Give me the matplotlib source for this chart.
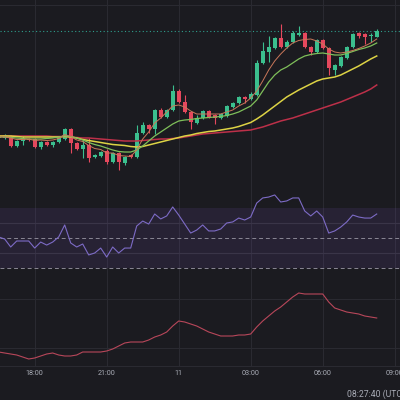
import numpy as np
import pandas as pd
import matplotlib
matplotlib.use('Agg')
import matplotlib.pyplot as plt

plt.rcParams['font.family'] = ['Roboto', 'DejaVu Sans']

BG = '#1b1b20'
GRID = '#2a2a31'
UP, DOWN = '#3bbf8e', '#e5485d'
TXT = '#a9acb6'

TIMES = pd.date_range('2024-06-10 16:30', periods=64, freq='15min')

OPEN = [62, 62, 64, 54, 59, 61, 61, 53, 58, 55, 58, 61, 71, 57, 51, 55, 43, 44, 49, 38, 47, 37, 45, 43,
        67, 75, 71, 90, 83, 90, 109, 98, 88, 77, 82, 89, 85, 82, 84, 93, 97, 103, 101, 105, 137, 148,
        152, 162, 153, 158, 165, 167, 153, 148, 160, 152, 130, 134, 142, 153, 167, 166, 164, 163]
HIGH = [65, 66, 65, 60, 64, 62, 62, 59, 59, 59, 63, 72, 72, 58, 60, 62, 46, 49, 51, 48, 48, 44, 46, 75,
        78, 76, 91, 92, 91, 115, 111, 105, 89, 85, 90, 90, 86, 87, 95, 98, 104, 104, 108, 140, 158, 164,
        163, 176, 160, 169, 174, 168, 154, 161, 161, 153, 136, 144, 154, 167, 168, 167, 167, 171]
LOW = [61, 61, 53, 53, 55, 59, 52, 51, 54, 53, 57, 60, 47, 50, 42, 38, 42, 43, 36, 37, 30, 35, 42, 42,
       66, 67, 66, 82, 82, 89, 97, 87, 71, 76, 81, 82, 76, 81, 83, 92, 96, 97, 100, 104, 136, 138,
       151, 152, 152, 157, 164, 152, 145, 147, 151, 125, 125, 133, 141, 152, 162, 156, 158, 163]
CLOSE = [64, 65, 54, 59, 61, 60, 53, 58, 55, 58, 62, 71, 57, 51, 55, 42, 45, 48, 38, 47, 38, 43, 43, 67,
         75, 71, 90, 83, 90, 109, 98, 88, 78, 82, 89, 83, 82, 86, 94, 97, 103, 101, 106, 137, 149, 153,
         162, 153, 158, 167, 167, 153, 148, 160, 152, 132, 135, 143, 153, 166, 164, 163, 165, 169]

MA_FAST = [63, 63, 62, 60.5, 60.5, 61, 59.5, 60, 59.5, 60, 61.5, 65.5, 63.5, 60, 58.5, 54.5, 51.5, 50.5,
           47, 47, 44.5, 44, 43.5, 50, 61, 68, 77, 82, 88, 94, 95, 93, 89, 86, 86, 86, 86, 86, 88, 90,
           94, 97, 102, 109, 119, 130, 139, 146, 152, 157, 159.5, 160.5, 161, 159, 156, 151, 148, 147,
           148, 149.5, 151.5, 154, 157, 161]
MA_MID = [63, 63, 62.5, 62, 61.5, 61, 61, 61, 61.5, 62, 63, 64, 63.5, 62, 60, 57.5, 55.5, 54, 52, 50,
          48.5, 48, 48, 50, 54, 59, 64, 68, 72, 76, 79, 80, 80.5, 81.5, 82, 82.5, 83, 83.5, 84.5, 86,
          88, 91, 94, 100, 109, 118, 125, 130, 133, 137, 141, 144, 145.5, 146.5, 147, 146, 145, 145,
          146.5, 148.5, 150.5, 152, 154, 157]
MA_SLOW = [64, 64, 64, 63.5, 63, 63, 63, 63, 63, 63, 63, 63.5, 63, 62, 60.5, 59.5, 58.5, 57.5, 56.5,
           55.5, 55, 54.5, 53.5, 53, 53.5, 55, 56.5, 58, 59.5, 61, 62.5, 64, 65, 66.5, 67.5, 68.5, 69,
           70, 71, 72, 73.5, 75.5, 77.5, 81, 85, 89.5, 94, 98.5, 103, 106.5, 110, 113, 116, 119, 121,
           122, 123, 125, 128, 131, 134, 137.5, 141, 144]
MA_LONG = [64, 64, 64, 64, 64, 64, 64, 64, 64, 63.5, 63.5, 63.5, 63, 62.5, 62, 62, 61.5, 61, 60.5, 60,
           59.5, 59, 59, 59, 59.5, 60, 60.5, 61, 61, 61.5, 62, 63, 64, 65, 66, 66.5, 67, 67.5, 68, 68.5,
           69, 69.5, 70, 71.5, 73, 75, 77, 79, 80.5, 82, 84, 86, 88, 90, 92, 94, 96, 98, 100.5, 103,
           105.5, 108, 111, 115]

RSI = [50.7, 49.3, 44, 48, 48, 48, 43.3, 47.3, 45.3, 47.3, 50.7, 58.7, 46.7, 44, 46, 38.7, 40, 43.3,
       37.3, 44, 40, 43.3, 43.3, 58, 61.3, 59.3, 66, 62.7, 64.7, 70.7, 65.3, 59.3, 53.3, 55.3, 58.7,
       54.7, 54.7, 56, 60, 60.7, 63.3, 62, 64, 73.3, 76.7, 77.3, 78.7, 74, 74.7, 76.7, 76.7, 68, 64.7,
       68, 64, 53.3, 54.7, 57.3, 60.7, 65.3, 64, 63.3, 63.3, 66]
ATR = [18, 17, 16, 15, 13, 11, 12, 14, 16, 17, 15, 14, 14, 15, 18, 18, 18, 18, 19, 21, 24, 27, 28, 28,
       28, 30, 33, 35, 38, 44, 49, 48, 46, 44, 41, 38, 36, 34, 34, 34, 35, 35, 36, 43, 49, 54, 59, 63,
       68, 73, 77, 76, 76, 76, 76, 68, 62, 60, 58, 57, 56, 54, 53, 52]

TICK_TIMES = pd.date_range('2024-06-10 18:00', '2024-06-11 09:00', freq='3h')


def _pane(fig, rect, ylim, xlim, ticks):
    ax = fig.add_axes(rect)
    ax.set_facecolor(BG)
    ax.set_xlim(*xlim)
    ax.set_ylim(*ylim)
    for s in ax.spines.values():
        s.set_visible(False)
    ax.set_yticks([])
    ax.set_xticks(ticks)
    ax.tick_params(axis='x', length=0, labelbottom=False)
    for t in ticks:
        ax.axvline(t, color=GRID, lw=0.8, zorder=0)
    return ax


x = np.arange(len(TIMES))
o, h, l, c = map(np.array, (OPEN, HIGH, LOW, CLOSE))
ticks = np.asarray((TICK_TIMES - TIMES[0]) / pd.Timedelta('15min'), dtype=float)
labels = [str(t.day) if t.hour == 0 else t.strftime('%H:%M') for t in TICK_TIMES]
xlim = (0.217, 66.88)

fig = plt.figure(figsize=(4, 4), dpi=100, facecolor=BG)

# price pane
ax = _pane(fig, [0, 0.535, 1, 0.465], (14, 200), xlim, ticks)
ax.axhline(195, color=GRID, lw=0.8, zorder=0)
colors = np.where(c >= o, UP, DOWN)
ax.vlines(x, l, h, colors=colors, lw=0.8, zorder=2)
body = np.maximum(np.abs(c - o), 0.8)
ax.bar(x, body, bottom=np.minimum(o, c), width=0.66, color=colors, zorder=3)
ax.plot(x, MA_LONG, color='#bd3049', lw=1.1, zorder=4)
ax.plot(x, MA_SLOW, color='#ddd345', lw=1.1, zorder=4)
ax.plot(x, MA_MID, color='#7fbf5a', lw=0.9, zorder=5)
ax.plot(x, MA_FAST, color='#c9775a', lw=0.7, zorder=6)
ax.axhline(c[-1], color='#2f9e8c', lw=0.8, ls=(0, (1, 2.2)), zorder=1)

# RSI pane
ax_r = _pane(fig, [0, 0.2925, 1, 0.2425], (20, 84.667), xlim, ticks)
ax_r.axhspan(30, 70, color='#7e57c2', alpha=0.13, lw=0, zorder=0)
for lvl in (40, 60):
    ax_r.axhline(lvl, color='#3a3548', lw=0.8, zorder=1)
for lvl in (30, 50):
    ax_r.axhline(lvl, color='#8a8794', lw=0.7, ls=(0, (4, 3)), zorder=1)
ax_r.plot(x, RSI, color='#7d6bc6', lw=0.8, zorder=3)

# ATR pane
ax_b = _pane(fig, [0, 0.0825, 1, 0.21], (3, 87), xlim, ticks)
for lvl in (4, 22, 71):
    ax_b.axhline(lvl, color=GRID, lw=0.8, zorder=0)
ax_b.plot(x, ATR, color='#b8475a', lw=0.8, zorder=3)
ax_b.set_xticks(ticks, labels)
ax_b.tick_params(axis='x', length=0, pad=2.5, labelbottom=True, labelsize=5.2, labelcolor=TXT)

fig.text(347 / 400, 1 - 394 / 400, '08:27:40 (UTC-4)', ha='left', va='center', fontsize=6.2, color=TXT)

fig.savefig('out.png', dpi=100, facecolor=BG)
